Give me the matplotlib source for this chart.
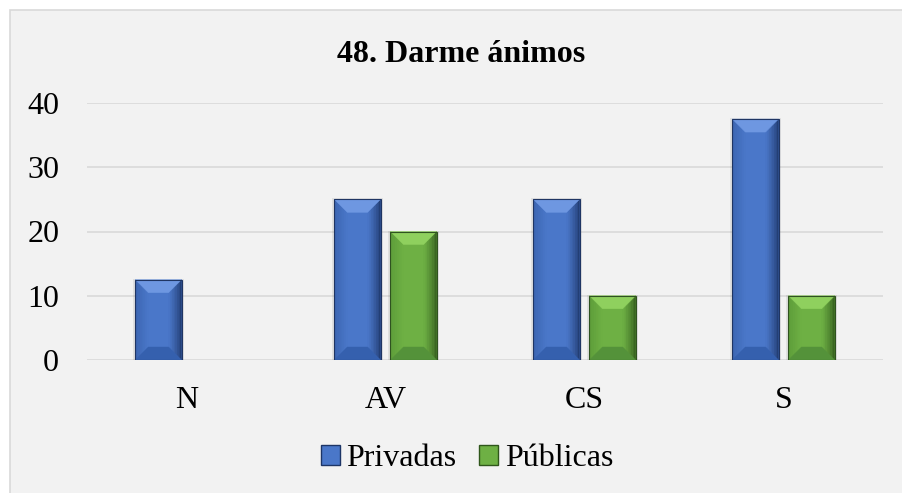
import matplotlib
matplotlib.use("Agg")
import matplotlib.pyplot as plt
import numpy as np
from matplotlib.colors import to_rgb
from matplotlib.patches import Rectangle, Polygon, Patch

categories = ["N", "AV", "CS", "S"]
privadas = [12.5, 25, 25, 37.5]
publicas = [0, 20, 10, 10]
series_names = ["Privadas", "Públicas"]
yticks = [0, 10, 20, 30, 40]

# face, top bevel, bottom bevel, left edge, right edge
PALETTE = {
    "Privadas": ["#4a77c9", "#6e97e1", "#3560ae", "#3b64b0", "#1d3566"],
    "Públicas": ["#6eb044", "#8fd05e", "#54923a", "#5d9c39", "#2f561b"],
}
OUTLINE = {"Privadas": "#1f3563", "Públicas": "#2f5220"}

W, H, DPI = 903, 493, 100
BG = "#f2f2f2"

plt.rcParams["font.family"] = ["Liberation Serif", "DejaVu Serif"]

fig = plt.figure(figsize=(W / DPI, H / DPI), dpi=DPI)
fig.patch.set_facecolor("white")
fig.patches.append(Rectangle((10 / W, -0.1), 1.2, (H - 10) / H + 0.1,
                             transform=fig.transFigure, facecolor=BG,
                             edgecolor="#d9d9d9", lw=1.2, zorder=-10))

left, right, top, bottom = 87, 883, 103, 360
ax = fig.add_axes([left / W, (H - bottom) / H, (right - left) / W, (bottom - top) / H])
ax.set_facecolor("none")
ax.set_xlim(-0.5, len(categories) - 0.5)
ax.set_ylim(0, 40)
for s in ax.spines.values():
    s.set_visible(False)
ax.set_yticks(yticks)
ax.yaxis.grid(True, color="#d9d9d9", lw=1.2)
ax.set_axisbelow(True)
ax.tick_params(axis="both", length=0, labelsize=23)
ax.tick_params(axis="y", pad=20)
ax.tick_params(axis="x", pad=19)
ax.set_xticks(range(len(categories)))
ax.set_xticklabels(categories)

x = np.arange(len(categories))
bw = 0.232
off = 0.141

# pixel -> data conversions for the bevel size
px_x = (right - left) / len(categories)
px_y = (bottom - top) / 40.0
bev = 13


def mix(a, b, t):
    a, b = np.array(to_rgb(a)), np.array(to_rgb(b))
    return tuple(a + (b - a) * t)


def bevel_bar(rect, cols, edge):
    h = rect.get_height()
    if h <= 0:
        return
    x0, w = rect.get_x(), rect.get_width()
    x1, y0, y1 = x0 + w, 0, h
    dx, dy = bev / px_x, bev / px_y
    # soft shadow behind the bar
    ax.add_patch(Rectangle((x0 - 2 / px_x, y0 - 2 / px_y), w + 4 / px_x, h + 3 / px_y,
                           facecolor="#000000", alpha=0.07, lw=0, zorder=2))
    # side bevels as thin strips fading from edge colour into the face
    n = 8
    for k in range(n):
        t0, t1 = k / n, (k + 1) / n
        for side, c in ((0, cols[3]), (1, cols[4])):
            if side == 0:
                xa, xb = x0 + dx * t0, x0 + dx * t1
            else:
                xa, xb = x1 - dx * t0, x1 - dx * t1
            pts = [(xa, y0 + dy * t0), (xb, y0 + dy * t1), (xb, y1 - dy * t1), (xa, y1 - dy * t0)]
            cc = mix(c, cols[0], (t0 + t1) / 2 if side == 0 else ((t0 + t1) / 2) ** 0.7)
            ax.add_patch(Polygon(pts, closed=True, facecolor=cc, edgecolor=cc, lw=0.3, zorder=4))
    top_pts = [(x0, y1), (x1, y1), (x1 - dx, y1 - dy), (x0 + dx, y1 - dy)]
    bot_pts = [(x0, y0), (x1, y0), (x1 - dx, y0 + dy), (x0 + dx, y0 + dy)]
    ax.add_patch(Polygon(top_pts, closed=True, facecolor=cols[1], edgecolor=cols[1], lw=0.3, zorder=4))
    ax.add_patch(Polygon(bot_pts, closed=True, facecolor=cols[2], edgecolor=cols[2], lw=0.3, zorder=4))
    ax.add_patch(Rectangle((x0, y0), w, h, facecolor="none", edgecolor=edge, lw=0.8, zorder=5))


for vals, name, sign in [(privadas, "Privadas", -1), (publicas, "Públicas", 1)]:
    bars = ax.bar(x + sign * off, vals, width=bw, color=PALETTE[name][0], lw=0, zorder=3)
    for r in bars:
        bevel_bar(r, PALETTE[name], OUTLINE[name])

fig.text(461 / W, 1 - 55 / H, "48. Darme ánimos", ha="center", va="center",
         fontsize=23, fontweight="bold")

handles = [Patch(facecolor=PALETTE[n][0], edgecolor=PALETTE[n][4], lw=1) for n in series_names]
fig.legend(handles, series_names, loc="center", bbox_to_anchor=(467 / W, 1 - 459 / H),
           ncol=2, frameon=False, fontsize=23, handlelength=0.6, handleheight=0.6,
           handletextpad=0.2, columnspacing=0.7)

fig.savefig("out.png", dpi=DPI, facecolor=fig.get_facecolor())
